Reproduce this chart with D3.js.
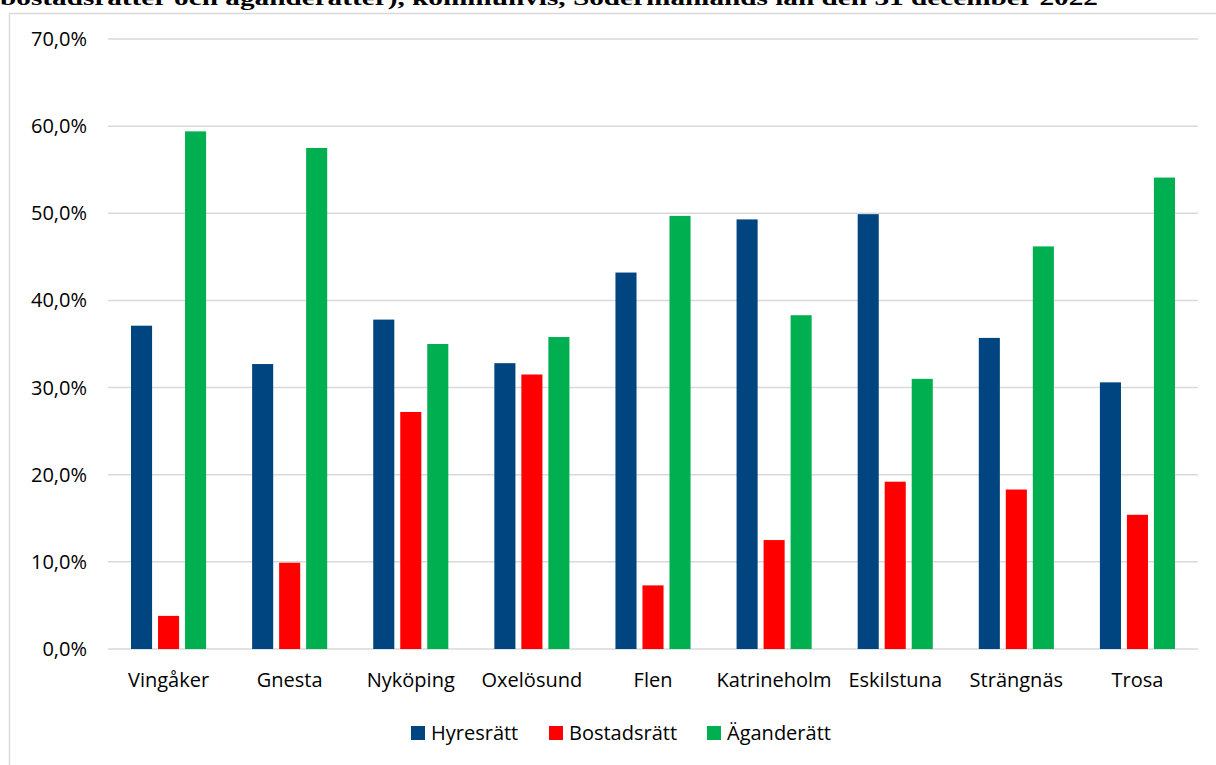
<!DOCTYPE html>
<html><head><meta charset="utf-8">
<script src="https://cdn.jsdelivr.net/npm/d3@7"></script>
<style>body{margin:0;background:#fff}svg{display:block}</style>
</head><body>
<svg id="c" width="1216" height="765"></svg>
<script>
const title = "bostadsrätter och äganderätter), kommunvis, Södermanlands län den 31 december 2022";
const categories = ["Vingåker","Gnesta","Nyköping","Oxelösund","Flen","Katrineholm","Eskilstuna","Strängnäs","Trosa"];
const seriesNames = ["Hyresrätt","Bostadsrätt","Äganderätt"];
const hyresratt   = [37.1, 32.7, 37.8, 32.8, 43.2, 49.3, 49.9, 35.7, 30.6];
const bostadsratt = [3.8, 9.9, 27.2, 31.5, 7.3, 12.5, 19.2, 18.3, 15.4];
const aganderatt  = [59.4, 57.5, 35.0, 35.8, 49.7, 38.3, 31.0, 46.2, 54.1];
const yTicks = [0,10,20,30,40,50,60,70];
const colors = ["#00457F","#FF0000","#00B050"];

const series = [hyresratt, bostadsratt, aganderatt];
const svg = d3.select("#c");
const font = "'Open Sans', 'Noto Sans', sans-serif";
const fs = 20;

// title (clipped at top, as in the reference)
svg.append("text").attr("x",0).attr("y",5)
  .attr("font-family","'Liberation Serif', 'Times New Roman', serif")
  .attr("font-weight","bold").attr("font-size",21)
  .attr("textLength",1098).attr("lengthAdjust","spacingAndGlyphs")
  .attr("fill","#000").text(title);

// chart frame
svg.append("path").attr("d","M9.5,765 V13.5 H1216").attr("fill","none").attr("stroke","#d9d9d9").attr("stroke-width",1.5);

const left=108, right=1198;
const y = d3.scaleLinear().domain([0,70]).range([649,39]);
const x0 = d3.scaleBand().domain(categories).range([left,right]).paddingInner(0.38).paddingOuter(0.19);
const x1 = d3.scaleBand().domain(seriesNames).range([0,x0.bandwidth()]).paddingInner(0.22);

// gridlines
svg.append("g").selectAll("line").data(yTicks).join("line")
  .attr("x1",left).attr("x2",right).attr("y1",d=>y(d)).attr("y2",d=>y(d))
  .attr("stroke","#d9d9d9").attr("stroke-width",1.5);

// y labels
svg.append("g").selectAll("text").data(yTicks).join("text")
  .attr("x",87).attr("y",d=>y(d)).attr("dy","0.35em").attr("text-anchor","end")
  .attr("font-family",font).attr("font-size",fs).attr("fill","#000")
  .text(d=>d.toFixed(1).replace(".",",")+"%");

// bars
const g = svg.append("g");
categories.forEach((c,i)=>{
  series.forEach((s,j)=>{
    g.append("rect")
      .attr("x",x0(c)+x1(seriesNames[j]))
      .attr("y",y(s[i]))
      .attr("width",x1.bandwidth())
      .attr("height",y(0)-y(s[i]))
      .attr("fill",colors[j]);
  });
});

// x labels
svg.append("g").selectAll("text").data(categories).join("text")
  .attr("x",d=>x0(d)+x0.bandwidth()/2).attr("y",687).attr("text-anchor","middle")
  .attr("font-family",font).attr("font-size",fs).attr("fill","#000").text(d=>d);

// legend
const legX=[411,549,707];
const lg = svg.append("g");
seriesNames.forEach((n,j)=>{
  lg.append("rect").attr("x",legX[j]).attr("y",726).attr("width",14).attr("height",14).attr("fill",colors[j]);
  lg.append("text").attr("x",legX[j]+20).attr("y",740).attr("font-family",font).attr("font-size",fs).attr("fill","#000").text(n);
});
</script>
</body></html>
